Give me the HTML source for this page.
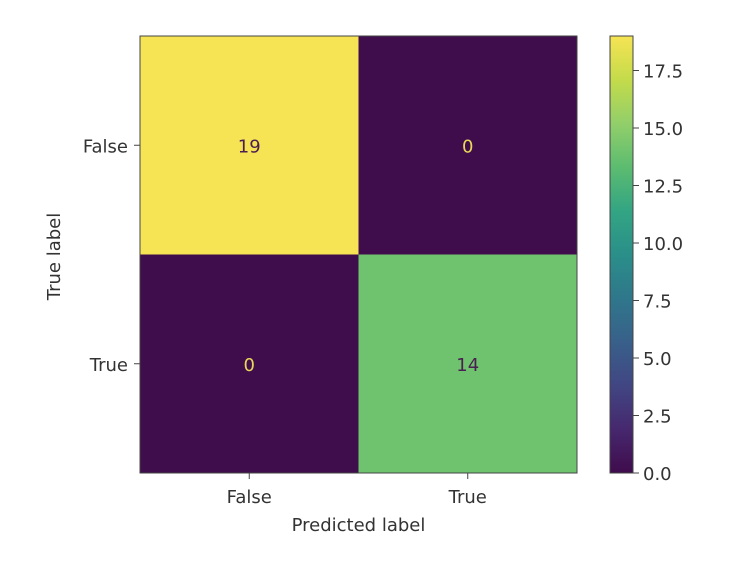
<!DOCTYPE html>
<html><head><meta charset="utf-8"><style>body{margin:0;background:#fff}text{font-family:"DejaVu Sans","Liberation Sans",sans-serif;fill:#333}</style></head>
<body>
<svg id="c" width="744" height="564" xmlns="http://www.w3.org/2000/svg">
<defs><linearGradient id="vir" x1="0" y1="1" x2="0" y2="0">
<stop offset="0" stop-color="#3f0c4c"/><stop offset="0.1" stop-color="#46286e"/><stop offset="0.2" stop-color="#414683"/><stop offset="0.3" stop-color="#38608a"/><stop offset="0.4" stop-color="#2f778b"/><stop offset="0.5" stop-color="#2a8f89"/><stop offset="0.6" stop-color="#33a583"/><stop offset="0.7" stop-color="#5cbc70"/><stop offset="0.8" stop-color="#92cf6a"/><stop offset="0.9" stop-color="#c4db4a"/><stop offset="1" stop-color="#f6e454"/></linearGradient></defs>
</svg>
<script>
const labels=["False","True"];
const matrix=[[19,0],[0,14]];
const cbTicks=[0,2.5,5,7.5,10,12.5,15,17.5];
const NS="http://www.w3.org/2000/svg",svg=document.getElementById('c');
function mk(t,a,p){const e=document.createElementNS(NS,t);for(const k in a)e.setAttribute(k,a[k]);(p||svg).appendChild(e);return e;}
const L=140,T=36,W=437,H=437,n=labels.length,cw=W/n,ch=H/n;
const vmin=0,vmax=Math.max(...matrix.flat());
const stops=[[0,"#3f0c4c"],[0.1,"#46286e"],[0.2,"#414683"],[0.3,"#38608a"],[0.4,"#2f778b"],[0.5,"#2a8f89"],[0.6,"#33a583"],[0.7,"#5cbc70"],[0.8,"#92cf6a"],[0.9,"#c4db4a"],[1,"#f6e454"]];
function hx(h){return [1,3,5].map(i=>parseInt(h.substr(i,2),16));}
function vir(t){for(let i=1;i<stops.length;i++){if(t<=stops[i][0]){const a=hx(stops[i-1][1]),b=hx(stops[i][1]),f=(t-stops[i-1][0])/(stops[i][0]-stops[i-1][0]);return `rgb(${a.map((v,j)=>Math.round(v+(b[j]-v)*f)).join(',')})`;}}return stops[10][1];}
for(let r=0;r<n;r++)for(let c=0;c<n;c++){const v=matrix[r][c],t=(v-vmin)/(vmax-vmin);
const rc=mk('rect',{x:L+c*cw,y:T+r*ch,width:cw,height:ch,fill:vir(t)});


const tx=mk('text',{x:L+(c+.5)*cw,y:T+(r+.5)*ch+7,'text-anchor':'middle','font-size':18});
tx.style.fill=t<0.5?'#e8d85a':'#4a1f52';tx.textContent=v;

}
const fr=mk('rect',{x:L,y:T,width:W,height:H,fill:'none',stroke:'#444','stroke-width':1});


labels.forEach((lb,i)=>{const x=L+(i+.5)*cw,y=T+(i+.5)*ch;
mk('line',{x1:x,x2:x,y1:T+H,y2:T+H+6,stroke:'#444'});
const a=mk('text',{x:x,y:T+H+30,'text-anchor':'middle','font-size':18});a.textContent=lb;


mk('line',{x1:L-6,x2:L,y1:y,y2:y,stroke:'#444'});
const b=mk('text',{x:L-12,y:y+7,'text-anchor':'end','font-size':18});b.textContent=lb;

});
const xt=mk('text',{x:L+W/2,y:531,'text-anchor':'middle','font-size':18});xt.textContent='Predicted label';


const yt=mk('text',{x:0,y:0,'text-anchor':'middle','font-size':18,transform:`translate(60,${T+H/2+2}) rotate(-90)`});yt.textContent='True label';


const CX=610,CW=23;
const cb=mk('rect',{x:CX,y:T,width:CW,height:H,fill:'url(#vir)',stroke:'#444'});


cbTicks.forEach(v=>{const y=T+H-(v-vmin)/(vmax-vmin)*H;
mk('line',{x1:CX+CW,x2:CX+CW+6,y1:y,y2:y,stroke:'#444'});
const t=mk('text',{x:CX+CW+10,y:y+7,'font-size':18});t.textContent=v.toFixed(1);

});
</script>
</body></html>
